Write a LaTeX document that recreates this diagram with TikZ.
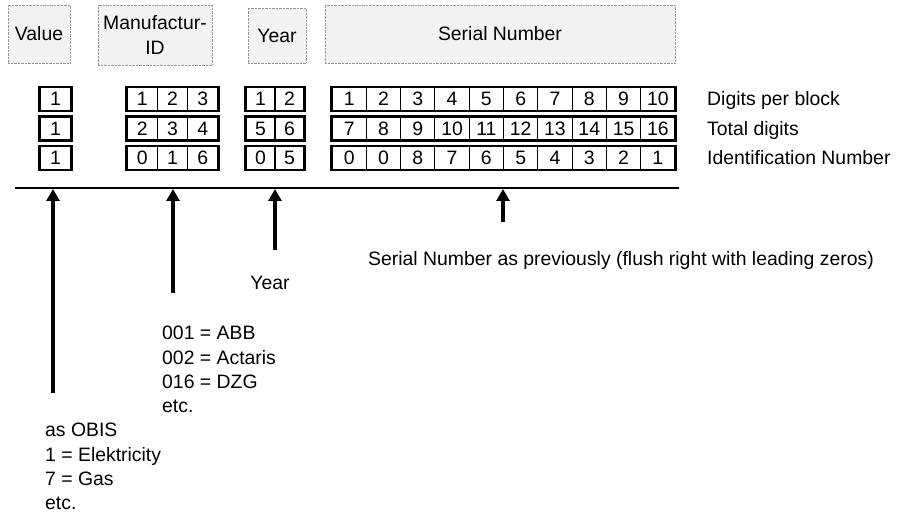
\documentclass[tikz,border=0pt]{standalone}
\usepackage{fontspec}
\setmainfont{Liberation Sans}
\usetikzlibrary{arrows.meta}

\begin{document}
\begin{tikzpicture}[
  x=1pt, y=-1pt,
  every node/.style={font=\fontsize{19.4}{24.3}\selectfont},
  headbox/.style={draw=black!40, densely dotted, fill=black!5, align=center, inner sep=0pt},
  cell/.style={draw, line width=1.1pt, minimum height=23pt, inner sep=0pt, text height=14pt, text depth=0pt},
  blockframe/.style={line width=2.3pt},
  baserule/.style={line width=1.8pt},
  uparr/.style={line width=4pt, -{Triangle[width=13pt,length=12pt]}},
  txt/.style={align=left, inner sep=0pt}
]
\useasboundingbox (0,0) rectangle (898,513);

% field headers
\node[headbox, minimum width=62pt, minimum height=58pt] (hval) at (39,34) {Value};
\node[headbox, minimum width=114pt, minimum height=60pt] (hman) at (155,35) {Manufactur-\\ID};
\node[headbox, minimum width=58pt, minimum height=55pt] (hyear) at (277,35.5) {Year};
\node[headbox, minimum width=350pt, minimum height=58pt] (hser) at (500,34) {Serial Number};

% digit blocks, one row per line of labels
\foreach \r/\vals in {1/{1},2/{1},3/{1}}
  \foreach \d [count=\i] in \vals
    \node[cell, minimum width=31pt] (v\r-\i) at ({40+31*(\i-0.5)},{99+29.5*(\r-1)}) {\d};
\foreach \r/\vals in {1/{1,2,3},2/{2,3,4},3/{0,1,6}}
  \foreach \d [count=\i] in \vals
    \node[cell, minimum width=30.3pt] (m\r-\i) at ({127+30.3*(\i-0.5)},{99+29.5*(\r-1)}) {\d};
\foreach \r/\vals in {1/{1,2},2/{5,6},3/{0,5}}
  \foreach \d [count=\i] in \vals
    \node[cell, minimum width=29pt] (y\r-\i) at ({246+29*(\i-0.5)},{99+29.5*(\r-1)}) {\d};
\foreach \r/\vals in {1/{1,2,3,4,5,6,7,8,9,10},2/{7,8,9,10,11,12,13,14,15,16},3/{0,0,8,7,6,5,4,3,2,1}}
  \foreach \d [count=\i] in \vals
    \node[cell, minimum width=34.3pt] (s\r-\i) at ({332+34.3*(\i-0.5)},{99+29.5*(\r-1)}) {\d};

% heavy outline round each block
\foreach \b/\n in {v/1,m/3,y/2,s/10}
  \foreach \r in {1,2,3}
    \draw[blockframe] (\b\r-1.north west) rectangle (\b\r-\n.south east);

% row labels
\node[anchor=base west, inner sep=0pt] (lper) at (707,106) {Digits per block};
\node[anchor=base west, inner sep=0pt] (ltot) at (707,135.5) {Total digits};
\node[anchor=base west, inner sep=0pt] (lid) at (707,165) {Identification Number};

% base line and pointers
\coordinate (ruleL) at (15,188);
\coordinate (ruleR) at (679,188);
\draw[baserule] (ruleL) -- (ruleR);

\coordinate (vtip) at (53,189);  \coordinate (vfoot) at (53,393);
\coordinate (mtip) at (173,189); \coordinate (mfoot) at (173,293);
\coordinate (ytip) at (275,189); \coordinate (yfoot) at (275,250);
\coordinate (stip) at (503,189); \coordinate (sfoot) at (503,222);
\draw[uparr] (vfoot) -- (vtip);
\draw[uparr] (mfoot) -- (mtip);
\draw[uparr] (yfoot) -- (ytip);
\draw[uparr] (sfoot) -- (stip);

% explanations
\node (tyear) at (270,283) {Year};
\node[anchor=west, inner sep=0pt] (tser) at (368,260) {Serial Number as previously (flush right with leading zeros)};
\node[txt, anchor=north west] (lman) at (162,326) {001 = ABB\\002 = Actaris\\016 = DZG\\etc.};
\node[txt, anchor=north west] (lval) at (45,423) {as OBIS\\1 = Elektricity\\7 = Gas\\etc.};
\end{tikzpicture}
\end{document}
